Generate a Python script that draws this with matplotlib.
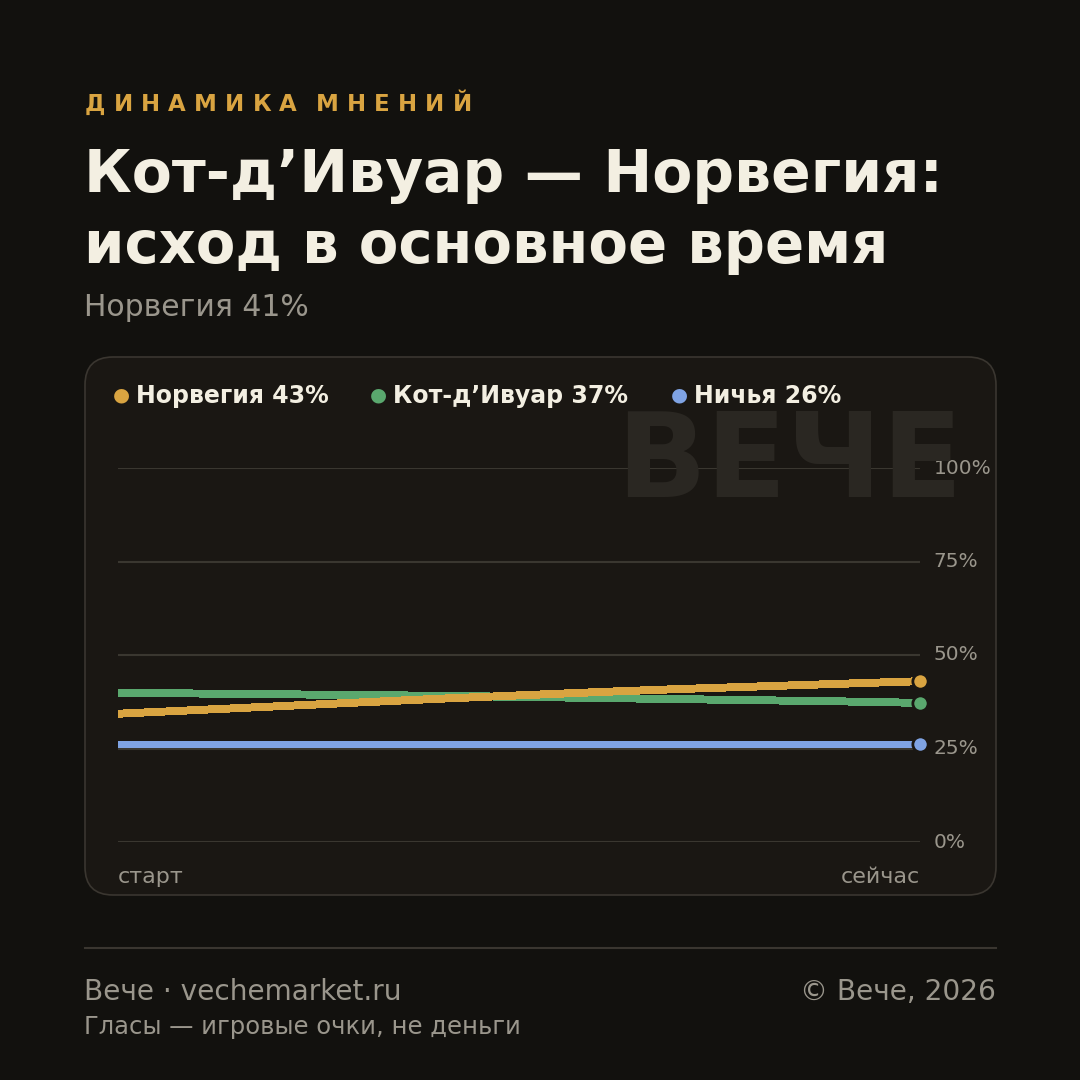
import matplotlib
matplotlib.use("Agg")
import matplotlib.pyplot as plt
from matplotlib.patches import FancyBboxPatch
from matplotlib.lines import Line2D

plt.rcParams["font.family"] = ["DejaVu Sans"]

BG = "#12110e"
CARD = "#1a1713"
EDGE = "#3a3630"
GRID = "#3a3730"
CREAM = "#f3efe2"
MUTED = "#9a968c"
GOLD = "#d9a441"
GREEN = "#5aa86e"
BLUE = "#7fa3e3"

# data (share, %)
steps = list(range(11))
norway = [34.3, 35.3, 36.3, 37.3, 38.3, 39.2, 40.1, 40.9, 41.6, 42.3, 43.0]
ivory = [39.9, 39.7, 39.5, 39.3, 39.1, 38.8, 38.5, 38.2, 37.9, 37.6, 37.2]
draw = [26.2] * 11
labels = ["Норвегия 43%", "Кот-д’Ивуар 37%", "Ничья 26%"]
colors = [GOLD, GREEN, BLUE]
yticks = [0, 25, 50, 75, 100]
kicker = "ДИНАМИКА МНЕНИЙ"

W = 1080


def px(x, y):
    return x / W, 1 - y / W


fig = plt.figure(figsize=(10.8, 10.8), dpi=100, facecolor=BG)
renderer = fig.canvas.get_renderer()

# card
card = FancyBboxPatch(px(85, 895), 911 / W, 538 / W,
                      boxstyle=f"round,pad=0,rounding_size={28 / W}",
                      transform=fig.transFigure, facecolor=CARD,
                      edgecolor=EDGE, linewidth=1.2, zorder=0)
fig.add_artist(card)

# kicker with letter spacing, placed char by char (spread over 85..472 px,
# gap between the two words ~19 px)
word_gap = 19
letters = []
for ch in kicker.replace(" ", ""):
    t = fig.text(0, 0, ch, color=GOLD, fontsize=16.5, fontweight="bold",
                 va="baseline", ha="left")
    letters.append((t, t.get_window_extent(renderer).width))
n_tracks = len(letters) - 2  # gaps inside words
track = (472 - 85 - word_gap - sum(w for _, w in letters)) / n_tracks
split = len(kicker.split(" ")[0])
x = 85
for i, (t, w) in enumerate(letters):
    t.set_position(px(x, 111))
    x += w + (word_gap if i == split - 1 else track)

fig.text(*px(84, 192), "Кот-д’Ивуар — Норвегия:", color=CREAM, fontsize=42,
         fontweight="bold", va="baseline", ha="left")
fig.text(*px(84, 263), "исход в основное время", color=CREAM, fontsize=41.5,
         fontweight="bold", va="baseline", ha="left")
fig.text(*px(84, 316), "Норвегия 41%", color=MUTED, fontsize=21.5,
         va="baseline", ha="left")

# watermark
fig.text(*px(963, 497), "ВЕЧЕ", color="#2a2722", fontsize=85,
         fontweight="bold", va="baseline", ha="right", zorder=1)

# legend
leg_x = [121, 378, 679]
for x, lab, c in zip(leg_x, labels, colors):
    fig.text(*px(x, 395), "●", color=c, fontsize=14, va="center", ha="center")
    fig.text(*px(x + 15, 403), lab, color=CREAM, fontsize=17,
             fontweight="bold", va="baseline", ha="left")

# plot area
l, b = px(118, 842)
r, t = px(920, 468)
ax = fig.add_axes([l, b, r - l, t - b])
ax.set_facecolor("none")
ax.set_xlim(0, 10)
ax.set_ylim(0, 100)
for s in ax.spines.values():
    s.set_visible(False)
ax.set_xticks([])
ax.set_yticks([])
for v in yticks:
    ax.axhline(v, color=GRID, linewidth=1.5, zorder=1)
    ax.text(10.17, v, f"{v}%", color=MUTED, fontsize=14.5,
            va="center", ha="left", clip_on=False)

for series, c in zip([draw, ivory, norway], [BLUE, GREEN, GOLD]):
    ax.plot(steps, series, color=c, linewidth=5, solid_capstyle="butt",
            antialiased=False, zorder=3)
    ax.plot(steps[-1], series[-1], "o", color=c, markersize=11,
            markeredgecolor=CARD, markeredgewidth=2, clip_on=False, zorder=4)

fig.text(*px(118, 883), "старт", color=MUTED, fontsize=16,
         va="baseline", ha="left")
fig.text(*px(920, 883), "сейчас", color=MUTED, fontsize=16,
         va="baseline", ha="right")

# footer
fig.add_artist(Line2D([85 / W, 996 / W], [1 - 948 / W] * 2, color=EDGE,
                      linewidth=1.5, transform=fig.transFigure))
fig.text(*px(84, 1000), "Вече · vechemarket.ru", color=MUTED, fontsize=20.2,
         va="baseline", ha="left")
fig.text(*px(996, 1000), "© Вече, 2026", color=MUTED, fontsize=20.2,
         va="baseline", ha="right")
fig.text(*px(84, 1034), "Гласы — игровые очки, не деньги", color=MUTED,
         fontsize=17.5, va="baseline", ha="left")

fig.savefig("out.png", dpi=100, facecolor=BG)
